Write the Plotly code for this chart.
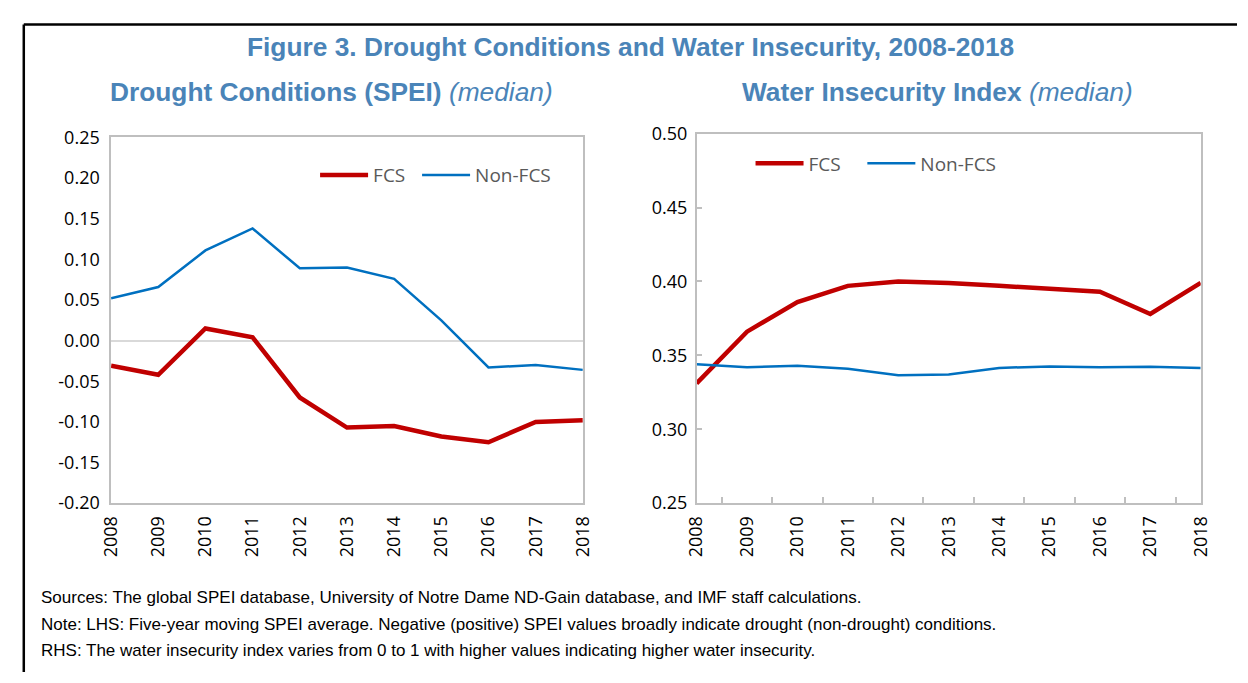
import plotly.graph_objects as go

W, H = 1248, 683

years = ["2008", "2009", "2010", "2011", "2012", "2013", "2014", "2015", "2016", "2017", "2018"]

spei_fcs = [-0.031, -0.042, 0.015, 0.004, -0.070, -0.107, -0.105, -0.118, -0.125, -0.100, -0.098]
spei_nonfcs = [0.052, 0.066, 0.111, 0.138, 0.089, 0.090, 0.076, 0.025, -0.033, -0.030, -0.036]

wii_fcs = [0.331, 0.366, 0.386, 0.397, 0.400, 0.399, 0.397, 0.395, 0.393, 0.378, 0.399]
wii_nonfcs = [0.344, 0.342, 0.343, 0.341, 0.3365, 0.337, 0.3415, 0.3425, 0.342, 0.3422, 0.3415]

left_yticks = [-0.20, -0.15, -0.10, -0.05, 0.00, 0.05, 0.10, 0.15, 0.20, 0.25]
right_yticks = [0.25, 0.30, 0.35, 0.40, 0.45, 0.50]

main_title = "Figure 3. Drought Conditions and Water Insecurity, 2008-2018"
left_title = "<b>Drought Conditions (SPEI)</b> <i>(median)</i>"
right_title = "<b>Water Insecurity Index</b> <i>(median)</i>"
notes = [
    "Sources: The global SPEI database, University of Notre Dame ND-Gain database, and IMF staff calculations.",
    "Note: LHS: Five-year moving SPEI average. Negative (positive) SPEI values broadly indicate drought (non-drought) conditions.",
    "RHS: The water insecurity index varies from 0 to 1 with higher values indicating higher water insecurity.",
]

RED = "#C00000"
BLUE = "#0070C0"
TITLE_BLUE = "#4A84B8"
BOX = "#BFBFBF"
TICKFONT = dict(family="Open Sans, Noto Sans, sans-serif", size=18, color="#000000")


def px(x):
    return x / W


def py(y):
    return 1 - y / H


fig = go.Figure()

fig.add_trace(go.Scatter(x=years, y=spei_fcs, name="FCS", mode="lines",
                         line=dict(color=RED, width=4.5), xaxis="x", yaxis="y", legend="legend"))
fig.add_trace(go.Scatter(x=years, y=spei_nonfcs, name="Non-FCS", mode="lines",
                         line=dict(color=BLUE, width=2.5), xaxis="x", yaxis="y", legend="legend3"))
fig.add_trace(go.Scatter(x=years, y=wii_fcs, name="FCS", mode="lines",
                         line=dict(color=RED, width=4.5), xaxis="x2", yaxis="y2", legend="legend2"))
fig.add_trace(go.Scatter(x=years, y=wii_nonfcs, name="Non-FCS", mode="lines",
                         line=dict(color=BLUE, width=2.5), xaxis="x2", yaxis="y2", legend="legend4"))

axis_common = dict(showgrid=False, showline=True, linecolor=BOX, linewidth=1.5, mirror=True,
                   tickfont=TICKFONT)

legend_common = dict(orientation="h", bgcolor="rgba(0,0,0,0)", borderwidth=0,
                     font=dict(family="Open Sans, Noto Sans, sans-serif", size=19, color="#595959"),
                     xanchor="left", yanchor="middle", itemwidth=48)

fig.update_layout(
    autosize=True,
    margin=dict(l=0, r=0, t=0, b=0),
    paper_bgcolor="white", plot_bgcolor="white",
    showlegend=True,
    xaxis=dict(domain=[px(100), px(581)], anchor="y", type="category", tickangle=-90,
               ticks="", ticklabelstandoff=4, **axis_common),
    yaxis=dict(domain=[py(508), py(129)], anchor="x", range=[-0.2, 0.25], tickvals=left_yticks,
               ticktext=[f"{v:.2f}" for v in left_yticks], ticks="", zeroline=True,
               zerolinecolor="#D9D9D9", zerolinewidth=1.5, ticklabelstandoff=6, **axis_common),
    xaxis2=dict(domain=[px(697), px(1211)], anchor="y2", type="category", tickangle=-90,
                ticks="inside", tickson="boundaries", ticklen=6, tickcolor=BOX, tickwidth=1.5,
                ticklabelstandoff=4, **axis_common),
    yaxis2=dict(domain=[py(508), py(125)], anchor="x2", range=[0.25, 0.5], tickvals=right_yticks,
                ticktext=[f"{v:.2f}" for v in right_yticks], ticks="inside", ticklen=6,
                tickcolor=BOX, tickwidth=1.5, zeroline=False, ticklabelstandoff=4, **axis_common),
    legend=dict(x=px(308), y=py(168), **legend_common),
    legend3=dict(x=px(412), y=py(168), **legend_common),
    legend2=dict(x=px(752), y=py(156), **legend_common),
    legend4=dict(x=px(866), y=py(156), **legend_common),
)

annos = [
    dict(text="<b>" + main_title + "</b>", x=px(630), y=py(35), xanchor="center", yanchor="middle",
         font=dict(family="Liberation Sans, Arial, sans-serif", size=26.3, color=TITLE_BLUE)),
    dict(text=left_title, x=px(97), y=py(82), xanchor="left", yanchor="middle",
         font=dict(family="Liberation Sans, Arial, sans-serif", size=26.3, color=TITLE_BLUE)),
    dict(text=right_title, x=px(741), y=py(82), xanchor="left", yanchor="middle",
         font=dict(family="Liberation Sans, Arial, sans-serif", size=26.3, color=TITLE_BLUE)),
]
for t, yy in zip(notes, [606, 634, 661]):
    annos.append(dict(text=t, x=px(26), y=py(yy), xanchor="left", yanchor="middle",
                      font=dict(family="Liberation Sans, Arial, sans-serif", size=17, color="#000000")))
for a in annos:
    a.update(xref="paper", yref="paper", showarrow=False)
fig.update_layout(annotations=annos)

fig.update_layout(shapes=[
    dict(type="line", xref="paper", yref="paper", x0=px(11), x1=1.0, y0=py(12), y1=py(12),
         line=dict(color="black", width=2.5)),
    dict(type="line", xref="paper", yref="paper", x0=px(11), x1=px(11), y0=py(12), y1=0.0,
         line=dict(color="black", width=2.5)),
])

post = (
    "document.documentElement.style.margin='0';document.documentElement.style.padding='0';"
    "document.documentElement.style.overflow='hidden';"
    "document.body.style.margin='0';document.body.style.padding='0';document.body.style.overflow='hidden';"
    "var gd=document.getElementById('{plot_id}');"
    "gd.style.width='100vw';gd.style.height='100vh';"
    "Plotly.Plots.resize(gd);"
)

fig.write_html("out.html", default_width="100vw", default_height="100vh",
               config={"displayModeBar": False, "responsive": True},
               post_script=post)
